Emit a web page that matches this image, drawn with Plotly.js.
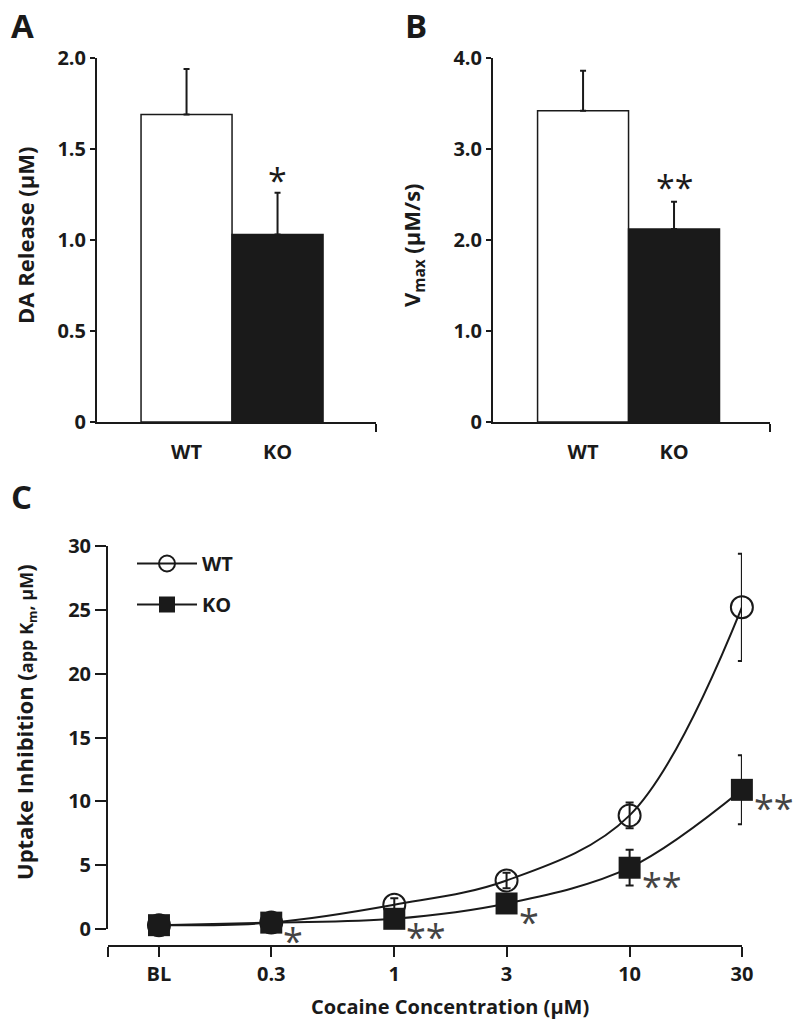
<!DOCTYPE html>
<html>
<head>
<meta charset="utf-8">
<script src="https://cdn.plot.ly/plotly-3.0.1.min.js"></script>
<style>html,body{margin:0;padding:0;background:#fff;}#chart{width:800px;height:1032px;}</style>
</head>
<body>
<div id="chart"></div>
<script>
// ---- Data ----
const groups = ['WT', 'KO'];
const releaseMeans = [1.69, 1.03];
const releaseErr = [0.25, 0.23];
const releaseSig = ['', '*'];
const vmaxMeans = [3.42, 2.12];
const vmaxErr = [0.44, 0.30];
const vmaxSig = ['', '**'];
const releaseTicks = ['0', '0.5', '1.0', '1.5', '2.0'];
const releaseTickVals = [0, 0.5, 1, 1.5, 2];
const vmaxTicks = ['0', '1.0', '2.0', '3.0', '4.0'];
const vmaxTickVals = [0, 1, 2, 3, 4];

const cocaineLabels = ['BL', '0.3', '1', '3', '10', '30'];
const cocaineConc = [0.1, 0.3, 1, 3, 10, 30];
const wtKm = [0.3, 0.5, 1.9, 3.8, 8.9, 25.2];
const wtKmErr = [0.1, 0.1, 0.5, 0.6, 1.0, 4.2];
const koKm = [0.3, 0.5, 0.8, 2.0, 4.8, 10.9];
const koKmErr = [0.1, 0.1, 0.2, 0.3, 1.4, 2.7];
const koSig = ['', '*', '**', '*', '**', '**'];
const kmTickVals = [0, 5, 10, 15, 20, 25, 30];

// ---- Styles ----
const INK = '#1a1a1a';
const FONT = 'Open Sans, Noto Sans, sans-serif';
const H = 1032, W = 800;
const px = v => v / W;
const py = v => 1 - v / H;
const barPos = groups.map((g, i) => i);

const traces = [
  {
    type: 'bar', x: barPos, y: releaseMeans, width: 1, xaxis: 'x', yaxis: 'y',
    marker: {color: ['#ffffff', INK], line: {color: INK, width: 1.5}},
    error_y: {type: 'data', symmetric: false, array: releaseErr, arrayminus: [0, 0], color: INK, thickness: 2, width: 3},
    showlegend: false, hoverinfo: 'skip'
  },
  {
    type: 'bar', x: barPos, y: vmaxMeans, width: 1, xaxis: 'x2', yaxis: 'y2',
    marker: {color: ['#ffffff', INK], line: {color: INK, width: 1.5}},
    error_y: {type: 'data', symmetric: false, array: vmaxErr, arrayminus: [0, 0], color: INK, thickness: 2, width: 3},
    showlegend: false, hoverinfo: 'skip'
  },
  {
    type: 'scatter', mode: 'lines+markers', name: 'WT', legendgroup: 'wt',
    x: cocaineConc, y: wtKm, xaxis: 'x3', yaxis: 'y3', cliponaxis: false,
    line: {color: INK, width: 2, shape: 'spline', smoothing: 1},
    marker: {symbol: 'circle-open', size: 22, color: INK, line: {width: 2, color: INK}},
    error_y: {type: 'data', array: wtKmErr, color: INK, thickness: 2, width: 4}
  },
  {
    type: 'scatter', mode: 'lines+markers', name: 'KO', legendgroup: 'ko',
    x: cocaineConc, y: koKm, xaxis: 'x3', yaxis: 'y3', cliponaxis: false,
    line: {color: INK, width: 2, shape: 'spline', smoothing: 1},
    marker: {symbol: 'square', size: 22, color: INK},
    error_y: {type: 'data', array: koKmErr, color: INK, thickness: 2, width: 4}
  }
];

const annotations = [];
function addText(x, y, text, size, extra) {
  annotations.push(Object.assign({
    xref: 'paper', yref: 'paper', x: x, y: y, text: text, showarrow: false,
    xanchor: 'center', yanchor: 'middle',
    font: {family: FONT, size: size, color: INK, weight: 700}
  }, extra || {}));
}
// panel letters
addText(px(22), py(25), 'A', 33);
addText(px(416), py(25), 'B', 33);
addText(px(21), py(497), 'C', 33);
// axis titles
addText(px(25), py(235), 'DA Release (µM)', 22, {textangle: -90});
addText(px(413), py(245), 'V<sub>max</sub> (µM/s)', 22, {textangle: -90});
addText(px(25), py(722), 'Uptake Inhibition (<span style="font-size:18px">app K<sub>m</sub>, µM</span>)', 22, {textangle: -90});
addText(px(450), py(1006), 'Cocaine Concentration (µM)', 20);

// significance marks
releaseSig.forEach((s, i) => {
  if (!s) return;
  annotations.push({xref: 'x', yref: 'y', x: barPos[i], y: releaseMeans[i] + releaseErr[i], text: s,
    showarrow: false, yanchor: 'bottom', yshift: -12, font: {family: FONT, size: 34, color: INK}});
});
vmaxSig.forEach((s, i) => {
  if (!s) return;
  annotations.push({xref: 'x2', yref: 'y2', x: barPos[i], y: vmaxMeans[i] + vmaxErr[i], text: s,
    showarrow: false, yanchor: 'bottom', yshift: -10, font: {family: FONT, size: 34, color: INK}});
});
koSig.forEach((s, i) => {
  if (!s) return;
  annotations.push({xref: 'x3', yref: 'y3', x: Math.log10(cocaineConc[i]), y: koKm[i], text: s,
    showarrow: false, xanchor: 'left', yanchor: 'middle', xshift: 10, yshift: -18,
    font: {family: FONT, size: 36, color: '#444444'}});
});

const cRange = [-1.2166, Math.log10(30) + 0.0005];
const baseAxis = {showline: true, linecolor: INK, linewidth: 2, showgrid: false, zeroline: false,
  tickcolor: INK, tickwidth: 2, fixedrange: true,
  tickfont: {family: FONT, size: 20, color: INK, weight: 700}};

const layout = {
  width: W, height: H,
  margin: {l: 0, r: 0, t: 0, b: 0},
  paper_bgcolor: '#ffffff', plot_bgcolor: 'rgba(0,0,0,0)',
  font: {family: FONT, color: INK},
  bargap: 0,
  showlegend: true,
  legend: {x: px(132), y: py(544), xanchor: 'left', yanchor: 'top', bgcolor: 'rgba(0,0,0,0)',
    font: {family: FONT, size: 20, color: INK, weight: 700}, itemwidth: 60, tracegroupgap: 12, traceorder: 'grouped'},
  xaxis: Object.assign({}, baseAxis, {domain: [px(97), px(376)], range: [-0.984, 2.082], anchor: 'y',
    tickvals: barPos, ticktext: groups, ticks: '', ticklabelstandoff: 11,
    minor: {tickvals: [2.08], ticks: 'outside', ticklen: 8, tickwidth: 2, tickcolor: INK, showgrid: false}}),
  yaxis: Object.assign({}, baseAxis, {domain: [py(422), py(58)], range: [0, 2], anchor: 'x',
    tickvals: releaseTickVals, ticktext: releaseTicks, ticks: 'outside', ticklen: 5}),
  xaxis2: Object.assign({}, baseAxis, {domain: [px(493), px(770)], range: [-0.99, 2.055], anchor: 'y2',
    tickvals: barPos, ticktext: groups, ticks: '', ticklabelstandoff: 11,
    minor: {tickvals: [2.053], ticks: 'outside', ticklen: 8, tickwidth: 2, tickcolor: INK, showgrid: false}}),
  yaxis2: Object.assign({}, baseAxis, {domain: [py(422), py(58)], range: [0, 4], anchor: 'x2',
    tickvals: vmaxTickVals, ticktext: vmaxTicks, ticks: 'outside', ticklen: 5}),
  xaxis3: Object.assign({}, baseAxis, {type: 'log', domain: [px(108), px(742)], range: cRange,
    anchor: 'free', position: py(946),
    tickvals: cocaineConc, ticktext: cocaineLabels, ticks: 'outside', ticklen: 10,
    minor: {tickvals: [Math.pow(10, cRange[0] + 0.001)], ticks: 'outside', ticklen: 10, tickwidth: 2, tickcolor: INK, showgrid: false}}),
  yaxis3: Object.assign({}, baseAxis, {domain: [py(929), py(546)], range: [0, 30], anchor: 'x3',
    tickvals: kmTickVals, ticks: 'outside', ticklen: 11}),
  annotations: annotations
};

Plotly.newPlot('chart', traces, layout, {displayModeBar: false, staticPlot: true});
</script>
</body>
</html>
